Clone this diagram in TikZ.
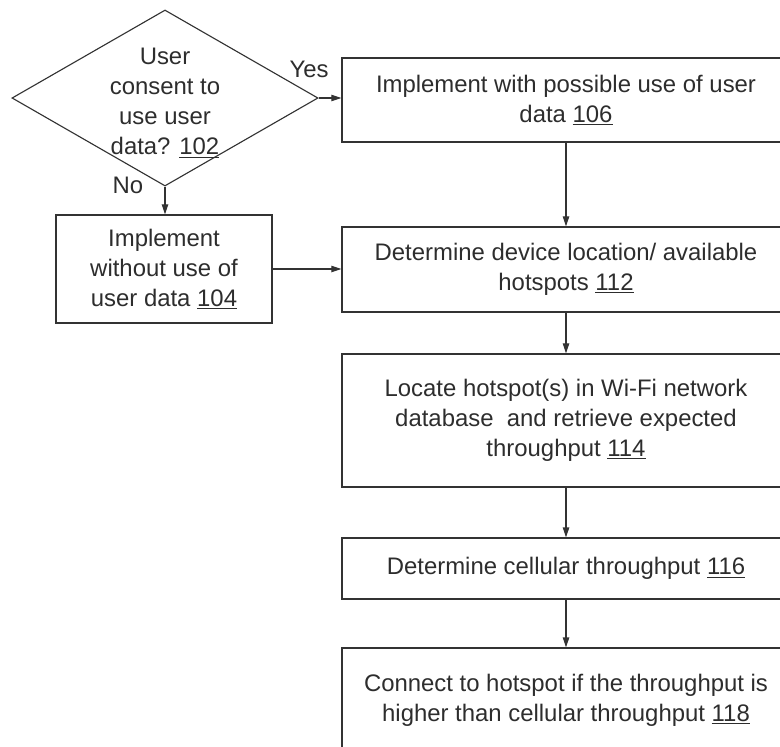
\documentclass[tikz,border=0pt]{standalone}
\usepackage{fontspec}
\setmainfont{Liberation Sans}
\usetikzlibrary{shapes.geometric,arrows.meta}
\definecolor{FlowLine}{RGB}{51,51,51}
\definecolor{FlowText}{RGB}{45,45,45}

\begin{document}
\begin{tikzpicture}[x=0.025cm,y=-0.025cm,
    every node/.style={text=FlowText, font=\fontsize{17}{21.3}\selectfont},
    stepbox/.style={draw=FlowLine, line width=0.8pt, align=center, inner sep=0pt},
    decision/.style={draw=FlowLine, line width=0.8pt, diamond, minimum width=7.65cm, minimum height=4.4cm, inner sep=0pt},
    flow/.style={draw=FlowLine, line width=0.8pt, -{Triangle[length=2.5mm,width=1.6mm]}}]
    \clip (0,0) rectangle (780,746);

    % Decision
    \node[decision] (q102) at (165,98) {};
    \node[align=center] (q102text) at (165,103) {User\\consent to\\use user\\data? \underline{102}};
    \node (yes) at (309,69) {Yes};
    \node (no) at (128,185) {No};

    % Left branch
    \node[stepbox, minimum width=5.4cm, minimum height=2.7cm] (s104) at (164,269) {Implement\\without use of\\user data \underline{104}};

    % Main column
    \node[stepbox, minimum width=11.2cm, minimum height=2.1cm] (s106) at (566,100) {Implement with possible use of user\\data \underline{106}};
    \node[stepbox, minimum width=11.2cm, minimum height=2.125cm] (s112) at (566,269.5) {Determine device location/ available\\hotspots \underline{112}};
    \node[stepbox, minimum width=11.2cm, minimum height=3.325cm] (s114) at (566,420.5) {Locate hotspot(s) in Wi-Fi network\\database~ and retrieve expected\\throughput \underline{114}};
    \node[stepbox, minimum width=11.2cm, minimum height=1.525cm] (s116) at (566,568.5) {Determine cellular throughput \underline{116}};
    \node[stepbox, minimum width=11.2cm, minimum height=2.6cm] (s118) at (566,700) {Connect to hotspot if the throughput is\\higher than cellular throughput \underline{118}};

    % Connectors
    \draw[flow] (q102.east) -- (q102.east -| s106.west);
    \draw[flow] (q102.south) -- (q102.south |- s104.north);
    \draw[flow] (s104.east) -- (s104.east -| s112.west);
    \draw[flow] (s106.south) -- (s112.north);
    \draw[flow] (s112.south) -- (s114.north);
    \draw[flow] (s114.south) -- (s116.north);
    \draw[flow] (s116.south) -- (s118.north);
\end{tikzpicture}
\end{document}
